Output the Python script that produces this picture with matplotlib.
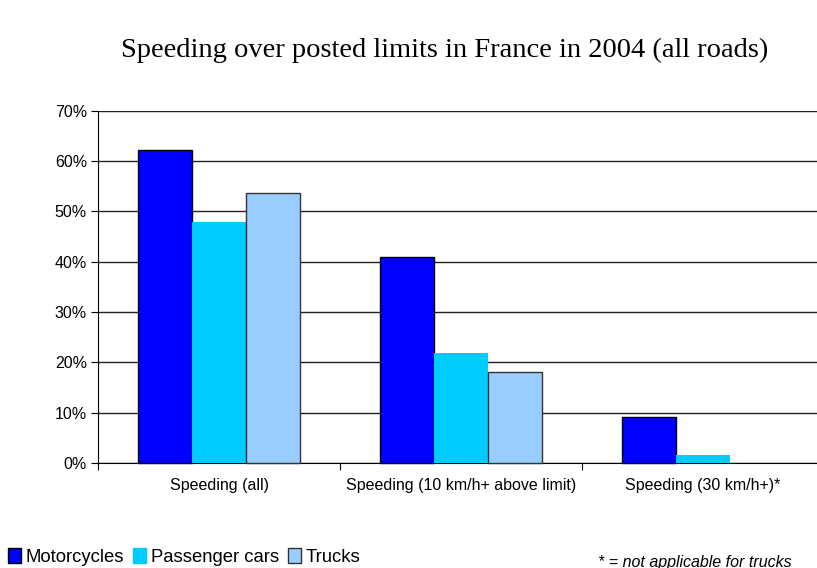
import numpy as np
import matplotlib.pyplot as plt
from matplotlib.patches import Patch

# 数据（卡车在第三类不适用）
categories = ['Speeding (all)', 'Speeding (10 km/h+ above limit)', 'Speeding (30 km/h+)*']
series = ['Motorcycles', 'Passenger cars', 'Trucks']
motorcycles = [62.1, 41.0, 9.2]
passenger_cars = [47.9, 21.9, 1.6]
trucks = [53.6, 18.0, np.nan]
y_ticks = [0, 10, 20, 30, 40, 50, 60, 70]

colors = ['#0000FF', '#00CCFF', '#99CCFF']
edges = ['black', 'none', '#333333']

fig = plt.figure(figsize=(8.17, 5.68), dpi=100)
ax = fig.add_axes([0.1200, 0.1849, 0.8886, 0.6202])

x = np.arange(len(categories)) + 0.5
w = 0.223
for i, (vals, c, ec) in enumerate(zip([motorcycles, passenger_cars, trucks], colors, edges)):
    ax.bar(x + (i - 1) * w, vals, width=w, color=c, edgecolor=ec,
           linewidth=1.0, zorder=3, clip_on=False)

ax.set_xlim(0, 3)
ax.set_ylim(0, 70)
ax.set_yticks(y_ticks)
ax.set_yticklabels([f'{v}%' for v in y_ticks], fontsize=11.5, family='Liberation Sans')
ax.yaxis.grid(True, color='#222222', linewidth=1.0, zorder=0)
ax.set_axisbelow(True)

# 类别标签放在分组中间，刻度线放在分组边界
ax.set_xticks([0, 1, 2, 3])
ax.set_xticklabels([])
ax.set_xticks(x, minor=True)
ax.set_xticklabels(categories, minor=True, fontsize=11.5, family='Liberation Sans')
ax.tick_params(axis='x', which='minor', length=0, pad=11)
ax.tick_params(axis='x', which='major', length=5, direction='out')
ax.tick_params(axis='y', length=5, direction='out', pad=3)

for s in ['top', 'right']:
    ax.spines[s].set_visible(False)
ax.spines['left'].set_color('black')
ax.spines['bottom'].set_color('black')

fig.text(445 / 817, 1 - 50 / 568, 'Speeding over posted limits in France in 2004 (all roads)',
         ha='center', va='center', fontsize=20.5, family='Liberation Serif')

handles = [Patch(facecolor=c, edgecolor=ec if ec != 'none' else c, linewidth=1.0)
           for c, ec in zip(colors, edges)]
fig.legend(handles, series, loc='center left', bbox_to_anchor=(0.01, 1 - 557 / 568),
           ncol=3, frameon=False, handlelength=0.7, handleheight=0.85,
           handletextpad=0.25, columnspacing=0.5, borderaxespad=0, borderpad=0,
           prop={'family': 'Liberation Sans', 'size': 13.3})

fig.text(598 / 817, 1 - 562 / 568, '* = not applicable for trucks', ha='left', va='center',
         fontsize=11.5, style='italic', family='Liberation Sans')

plt.savefig('out.png', dpi=100)
